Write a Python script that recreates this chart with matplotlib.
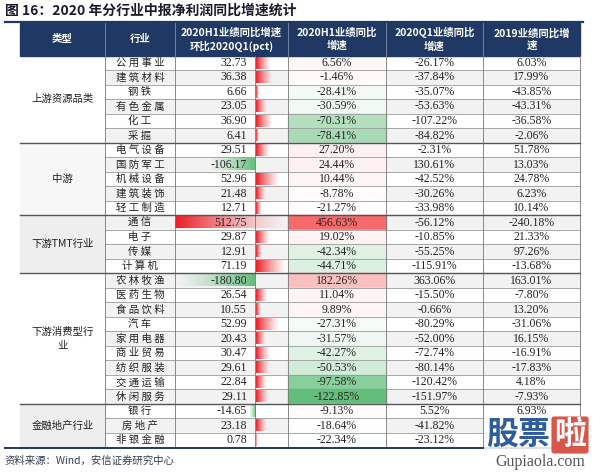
import numpy as np
import matplotlib.pyplot as plt
from matplotlib.colors import to_rgb

plt.rcParams['font.family'] = ['Noto Sans CJK SC', 'DejaVu Sans']

# ---- data ----
groups = ["上游资源品类", "中游", "下游TMT行业", "下游消费型行\n业", "金融地产行业"]
group_sizes = [6, 5, 4, 9, 3]
industries = ["公用事业", "建筑材料", "钢铁", "有色金属", "化工", "采掘",
              "电气设备", "国防军工", "机械设备", "建筑装饰", "轻工制造",
              "通信", "电子", "传媒", "计算机",
              "农林牧渔", "医药生物", "食品饮料", "汽车", "家用电器", "商业贸易",
              "纺织服装", "交通运输", "休闲服务",
              "银行", "房地产", "非银金融"]
h1_vs_q1 = [32.73, 36.38, 6.66, 23.05, 36.90, 6.41,
            29.51, -106.17, 52.96, 21.48, 12.71,
            512.75, 29.87, 12.91, 71.19,
            -180.80, 26.54, 10.55, 52.99, 20.43, 30.47, 29.61, 22.84, 29.11,
            -14.65, 23.18, 0.78]
h1_yoy = [6.56, -1.46, -28.41, -30.59, -70.31, -78.41,
          27.20, 24.44, 10.44, -8.78, -21.27,
          456.63, 19.02, -42.34, -44.71,
          182.26, 11.04, 9.89, -27.31, -31.57, -42.27, -50.53, -97.58, -122.85,
          -9.13, -18.64, -22.34]
q1_yoy = [-26.17, -37.84, -35.07, -53.63, -107.22, -84.82,
          -2.31, 130.61, -42.52, -30.26, -33.98,
          -56.12, -10.85, -55.25, -115.91,
          363.06, -15.50, -0.66, -80.29, -52.00, -72.74, -80.14, -120.42, -151.97,
          5.52, -41.82, -23.12]
# last two values hidden behind the watermark
y2019_yoy = ["6.03%", "17.99%", "-43.85%", "-43.31%", "-36.58%", "-2.06%",
             "51.78%", "13.03%", "24.78%", "6.23%", "10.14%",
             "-240.18%", "21.33%", "97.26%", "-13.68%",
             "163.01%", "-7.80%", "13.20%", "-31.06%", "16.15%", "-16.91%",
             "-17.83%", "4.18%", "-7.93%",
             "6.93%", "", ""]
headers = ["类型", "行业", "2020H1业绩同比增速\n环比2020Q1(pct)",
           "2020H1业绩同比\n增速", "2020Q1业绩同比\n增速", "2019业绩同比增\n速"]

# ---- layout (pixels) ----
navy = "#1F3864"
c0, c1, c2, axis_x, c3, c4, c5, c6 = 20, 105, 175, 255, 288, 386, 483, 580
head_top, top0, rh = 23, 55.7, 14.51
n = len(industries)

fig = plt.figure(figsize=(6, 4.72), dpi=100)
ax = fig.add_axes([0, 0, 1, 1])
ax.set_xlim(0, 600)
ax.set_ylim(472, 0)
ax.axis("off")

ax.text(5, 11, "图 16：2020 年分行业中报净利润同比增速统计", fontsize=10,
        fontweight="bold", color="#1a1a2e", va="center", ha="left")
ax.plot([5, 583], [21.5, 21.5], color=navy, lw=1.6)

# header
ax.add_patch(plt.Rectangle((c0, head_top), c6 - c0, top0 - head_top, color=navy, zorder=1))
hx = [(c0 + c1) / 2, (c1 + c2) / 2, (c2 + c3) / 2, (c3 + c4) / 2, (c4 + c5) / 2, (c5 + c6) / 2]
for x, t in zip(hx, headers):
    ax.text(x, (head_top + top0) / 2, t, color="white", fontsize=7.5, fontweight="bold",
            ha="center", va="center", linespacing=1.3, zorder=3)
for x in [c1, c2, c3, c4, c5]:
    ax.plot([x, x], [head_top, top0], color="#8090b0", lw=0.6, zorder=2)

# row backgrounds
for i in range(n):
    y = top0 + i * rh
    bg = "#f2f2f2" if i % 2 else "white"
    ax.add_patch(plt.Rectangle((c1, y), c6 - c1, rh, color=bg, zorder=0))

# group cells
group_bg = ["white", "#f7f7f7", "#eeeeee", "white", "#eeeeee"]
start = 0
for g, size, bg in zip(groups, group_sizes, group_bg):
    y0 = top0 + start * rh
    ax.add_patch(plt.Rectangle((c0, y0), c1 - c0, size * rh, color=bg, zorder=0.5))
    ax.text((c0 + c1) / 2, y0 + size * rh / 2, g, fontsize=7.5, ha="center", va="center",
            linespacing=1.5, color="#222222", zorder=3)
    start += size

# col4: three colour scale (green - white - red)
green = np.array(to_rgb("#63BE7B"))
red = np.array(to_rgb("#F8696B"))
white = np.array([1.0, 1.0, 1.0])
vmin, vmid, vmax = min(h1_yoy), np.median(h1_yoy), max(h1_yoy)
for i, v in enumerate(h1_yoy):
    if v >= vmid:
        f = (v - vmid) / (vmax - vmid)
        col = white + (red - white) * f
    else:
        f = (v - vmid) / (vmin - vmid)
        col = white + (green - white) * f
    ax.add_patch(plt.Rectangle((c3, top0 + i * rh), c4 - c3, rh, color=col, zorder=0.8))


def grad_bar(x0, x1, y0, y1, rgb, solid_left):
    a = np.linspace(1.0, 0.0, 64) ** 1.3
    if not solid_left:
        a = a[::-1]
    img = np.zeros((1, 64, 4))
    img[0, :, :3] = rgb
    img[0, :, 3] = a
    ax.imshow(img, extent=(x0, x1, y1, y0), aspect="auto", interpolation="bilinear", zorder=1)


# col3: data bars
bar_red = to_rgb("#EE1C25")
bar_green = to_rgb("#63BE7B")
scale = (axis_x - c2) / abs(min(h1_vs_q1))
vmax3 = max(h1_vs_q1)
for i, v in enumerate(h1_vs_q1):
    y0 = top0 + i * rh + 1.5
    y1 = top0 + (i + 1) * rh - 1.5
    if v == vmax3:
        grad_bar(c2, c3, y0, y1, bar_red, True)
    elif v > 0:
        grad_bar(axis_x + 1, min(axis_x + 1 + v * scale, c3 - 1), y0, y1, bar_red, True)
    else:
        grad_bar(axis_x + v * scale, axis_x, y0, y1, bar_green, False)

# texts
for i in range(n):
    yc = top0 + (i + 0.5) * rh
    ax.text((c1 + c2) / 2, yc, " ".join(industries[i]), fontsize=7.5, ha="center",
            va="center", color="#222222", zorder=3)
    ax.text(axis_x - 8, yc, f"{h1_vs_q1[i]:.2f}", fontsize=8.5, family="Liberation Serif",
            ha="right", va="center", color="#222222", zorder=3)
    ax.text((c3 + c4) / 2, yc, f"{h1_yoy[i]:.2f}%", fontsize=8.5, family="Liberation Serif",
            ha="center", va="center", color="#222222", zorder=3)
    ax.text((c4 + c5) / 2, yc, f"{q1_yoy[i]:.2f}%", fontsize=8.5, family="Liberation Serif",
            ha="center", va="center", color="#222222", zorder=3)
    ax.text((c5 + c6) / 2, yc, y2019_yoy[i], fontsize=8.5, family="Liberation Serif",
            ha="center", va="center", color="#222222", zorder=3)

# grid lines
bottom = top0 + n * rh
for i in range(1, n):
    y = top0 + i * rh
    ax.plot([c1, c6], [y, y], color="#9a9a9a", lw=0.6, zorder=2)
start = 0
for size in group_sizes[:-1]:
    start += size
    y = top0 + start * rh
    ax.plot([c0, c6], [y, y], color="#555555", lw=1.0, zorder=2.5)
for x in [c1, c2, axis_x, c3, c4, c5, c6]:
    ax.plot([x, x], [top0, bottom], color="#777777", lw=0.6, zorder=2)
ax.plot([5, 583], [bottom + 0.5, bottom + 0.5], color=navy, lw=1.4, zorder=3)

ax.text(5, 461, "资料来源：Wind，安信证券研究中心", fontsize=7.5, color="#3a3a5a",
        ha="left", va="center")

# watermark
ax.text(486, 435, "股票", fontsize=23, fontweight="bold", color="#2e5c9e", ha="left",
        va="center", zorder=5,
        bbox=dict(boxstyle="square,pad=0.05", fc="white", ec="none", alpha=0.85))
ax.text(554, 435, "啦", fontsize=23, fontweight="bold", color="white", ha="left",
        va="center", zorder=6,
        bbox=dict(boxstyle="round,pad=0.08", fc="#d8564a", ec="none"))
ax.text(540, 462, "Gupiaola.com", fontsize=11.5, family="Liberation Serif",
        color="#555555", ha="center", va="center", zorder=5)

fig.savefig("out.png", dpi=100)
